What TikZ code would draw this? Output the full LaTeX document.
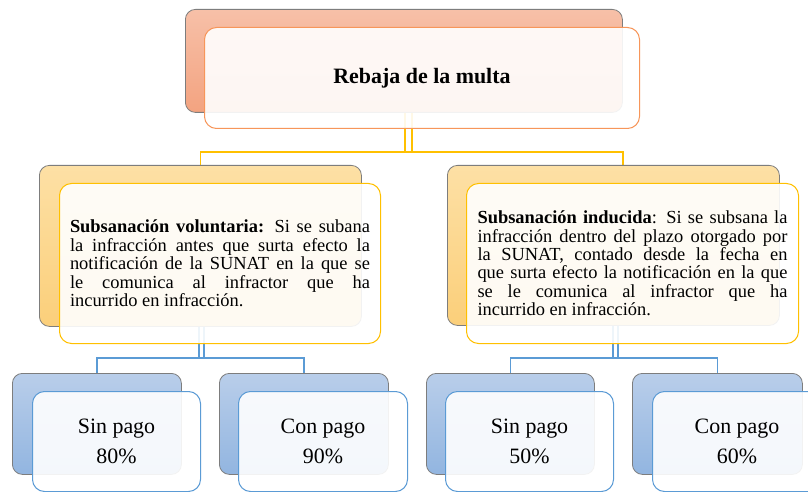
\documentclass[tikz,border=0pt]{standalone}
\usepackage{fontspec}
\setmainfont{Liberation Serif}
\usetikzlibrary{backgrounds}
\definecolor{salA}{RGB}{247,192,168}
\definecolor{salB}{RGB}{243,163,128}
\definecolor{salE}{RGB}{247,150,90}
\definecolor{goldA}{RGB}{253,224,165}
\definecolor{goldB}{RGB}{251,207,122}
\definecolor{goldE}{RGB}{255,192,0}
\definecolor{bluA}{RGB}{185,206,234}
\definecolor{bluB}{RGB}{146,181,224}
\definecolor{bluE}{RGB}{91,155,213}
\definecolor{edgeG}{RGB}{125,125,125}
\tikzset{
  backbox/.style={anchor=north west, rounded corners=10bp, draw=edgeG, line width=0.8bp, inner sep=0pt},
  frontbox/.style={anchor=north west, rounded corners=12bp, fill=white, fill opacity=0.9, text opacity=1, line width=1bp, inner sep=0pt},
  salback/.style={backbox, top color=salA, bottom color=salB},
  goldback/.style={backbox, top color=goldA, bottom color=goldB},
  bluback/.style={backbox, top color=bluA, bottom color=bluB},
  goldline/.style={draw=goldE, line width=1.5bp},
  blueline/.style={draw=bluE, line width=1.5bp},
  midtext/.style={frontbox, draw=goldE, minimum height=160bp, align=justify, font=\fontsize{18.5}{18.5}\selectfont},
  lowtext/.style={frontbox, draw=bluE, minimum height=100bp, align=center, font=\fontsize{22}{30}\selectfont}
}
\begin{document}
\begin{tikzpicture}[x=1bp,y=-1bp]
\useasboundingbox (0,0) rectangle (808,492);
% top
\node[salback, minimum width=437bp, minimum height=103bp] (topb) at (185,9) {};
\node[frontbox, draw=salE, minimum width=435bp, minimum height=101bp, font=\bfseries\fontsize{22}{26}\selectfont] (topf) at (204,27) {Rebaja de la multa};
% middle
\node[goldback, minimum width=322bp, minimum height=161bp] (lb) at (39,165) {};
\node[midtext, minimum width=321bp, text width=300bp] (lf) at (59,183)
 {\textbf{Subsanación voluntaria:} Si se subana\linebreak la infracción antes que surta efecto la\linebreak notificación de la SUNAT en la que se\linebreak le comunica al infractor que ha\linebreak incurrido en infracción.};
\node[goldback, minimum width=332bp, minimum height=160bp] (rb) at (447,165) {};
\node[midtext, minimum width=332bp, text width=310bp] (rf) at (466,183)
 {\textbf{Subsanación inducida}: Si se subsana la\linebreak infracción dentro del plazo otorgado por\linebreak la SUNAT, contado desde la fecha en\linebreak que surta efecto la notificación en la que\linebreak se le comunica al infractor que ha\linebreak incurrido en infracción.};
% bottom
\node[bluback, minimum width=169bp, minimum height=101bp] (b1) at (12,373) {};
\node[lowtext, minimum width=168bp] (f1) at (32,391) {Sin pago\\80\%};
\node[bluback, minimum width=169bp, minimum height=101bp] (b2) at (219,373) {};
\node[lowtext, minimum width=169bp] (f2) at (238,391) {Con pago\\90\%};
\node[bluback, minimum width=168bp, minimum height=101bp] (b3) at (426,373) {};
\node[lowtext, minimum width=168bp] (f3) at (445,391) {Sin pago\\50\%};
\node[bluback, minimum width=170bp, minimum height=101bp] (b4) at (632,373) {};
\node[lowtext, minimum width=169bp] (f4) at (652,391) {Con pago\\60\%};
% connectors
\begin{scope}[on background layer]
\fill[white] (0,0) rectangle (808,492);
\coordinate (gj) at (408.5,152);
\coordinate (rj) at (623,152);
\draw[goldline] ([xshift=-3.5bp]gj |- topb.south) -- ([xshift=-3.5bp]gj);
\draw[goldline] ([xshift=3.5bp]gj |- topb.south) -- ([xshift=3.5bp]gj);
\draw[goldline] (lb.north) |- (rj) -- (rj |- rb.north);
\coordinate (bl) at (201.5,358);
\coordinate (br) at (615.5,358);
\draw[blueline] ([xshift=-2.5bp]bl |- lb.south) -- ([xshift=-2.5bp]bl);
\draw[blueline] ([xshift=2.5bp]bl |- lb.south) -- ([xshift=2.5bp]bl);
\draw[blueline] (b1.north) |- (bl) -| (b2.north);
\draw[blueline] ([xshift=-2.5bp]br |- rb.south) -- ([xshift=-2.5bp]br);
\draw[blueline] ([xshift=2.5bp]br |- rb.south) -- ([xshift=2.5bp]br);
\draw[blueline] (b3.north) |- (br) -| (b4.north);
\end{scope}
\end{tikzpicture}
\end{document}
